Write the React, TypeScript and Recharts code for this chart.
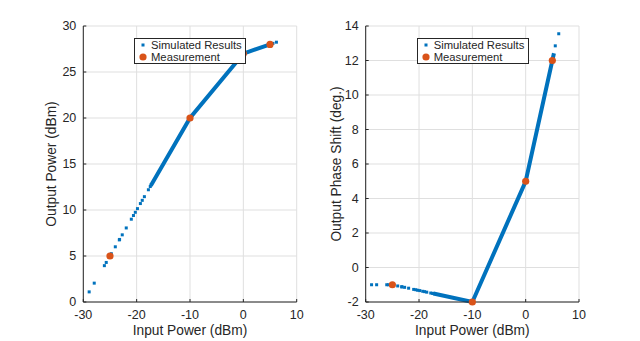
import { ComposedChart, Line, Scatter, XAxis, YAxis, CartesianGrid, Legend } from 'recharts';

// simulated input power (dBm) and the two outputs
const simInput = [-28.9, -27.95, -26.05, -25.7, -24.75, -24.0, -23.25, -23.2, -22.7, -21.95, -21.0, -20.6, -20.25, -19.85, -19.3, -18.95, -18.55, -17.8, -17.45, -17.3, 5.55, 6.2];
const simAmAm = [1.1, 2.05, 3.95, 4.3, 5.25, 6.0, 6.75, 6.8, 7.3, 8.05, 9.0, 9.4, 9.75, 10.15, 10.7, 11.05, 11.45, 12.2, 12.55, 12.7, 28.11, 28.24];
const simAmPm = [-1.0, -1.0, -1.0, -1.0, -1.02, -1.07, -1.12, -1.12, -1.15, -1.2, -1.27, -1.29, -1.32, -1.34, -1.38, -1.4, -1.43, -1.48, -1.5, -1.51, 12.85, 13.55];

// the dense run of simulated points, drawn as a thick trace
const bandInput = [-17.3, -10, 0, 5.3];
const bandAmAm = [12.7, 20, 27, 28.06];
const bandAmPm = [-1.51, -2, 5, 12.42];

const measInput = [-25, -10, 0, 5];
const measAmAm = [5, 20, 27, 28];
const measAmPm = [-1, -2, 5, 12];

const xTicks = [-30, -20, -10, 0, 10];
const amTicks = [0, 5, 10, 15, 20, 25, 30];
const pmTicks = [-2, 0, 2, 4, 6, 8, 10, 12, 14];

const BLUE = '#0072BD';
const ORANGE = '#D95319';
const INK = '#262626';
const FONT = '"Liberation Sans", Arial, Helvetica, sans-serif';

const toPoints = (xs: number[], ys: number[]) => xs.map((x, i) => ({ x, y: ys[i] }));

const square = (p: any) => <rect x={p.cx - 1.5} y={p.cy - 1.5} width={3} height={3} fill={BLUE} />;
const dot = (p: any) => <circle cx={p.cx} cy={p.cy} r={3.6} fill={ORANGE} />;

function LegendBox() {
  const row = { position: 'relative' as const, height: 12, lineHeight: '12px', paddingLeft: 16 };
  return (
    <div style={{ width: 112, height: 26, boxSizing: 'border-box', border: `1px solid ${INK}`, background: '#fff', fontFamily: FONT, fontSize: 11.25, color: INK, textAlign: 'left', paddingTop: 0 }}>
      <div style={row}>
        <svg width={10} height={12} style={{ position: 'absolute', left: 3, top: 0 }}>
          <rect x={3.5} y={4.5} width={3} height={3} fill={BLUE} />
        </svg>
        Simulated Results
      </div>
      <div style={row}>
        <svg width={10} height={12} style={{ position: 'absolute', left: 3, top: 0 }}>
          <circle cx={5} cy={6} r={3.6} fill={ORANGE} />
        </svg>
        Measurement
      </div>
    </div>
  );
}

interface PanelProps {
  title: string;
  yLabel: string;
  yDomain: [number, number];
  yTicks: number[];
  sim: { x: number; y: number }[];
  band: { x: number; y: number }[];
  meas: { x: number; y: number }[];
  yAxisWidth: number;
  marginRight: number;
  yLabelOffset: number;
  legendLeft: number;
}

function Panel(p: PanelProps) {
  const tick = { fill: INK, fontSize: 12.5, fontFamily: FONT };
  return (
    <ComposedChart width={320} height={341} margin={{ top: 26, right: p.marginRight, bottom: 0, left: 0 }}>
      <CartesianGrid stroke="#dfdfdf" />
      <XAxis
        type="number"
        dataKey="x"
        domain={[-30, 10]}
        ticks={xTicks}
        height={39}
        tickSize={-3}
        tickMargin={11}
        stroke={INK}
        tick={tick}
        label={{ value: 'Input Power (dBm)', position: 'insideBottom', offset: 6, fill: INK, fontSize: 13.75, fontFamily: FONT }}
      />
      <XAxis
        xAxisId="top"
        orientation="top"
        type="number"
        domain={[-30, 10]}
        ticks={xTicks}
        height={0}
        tickSize={-3}
        tick={false}
        stroke={INK}
        label={{ value: p.title, position: 'top', offset: 6, fill: '#000', fontSize: 13.75, fontWeight: 'bold', fontFamily: FONT }}
      />
      <YAxis
        type="number"
        dataKey="y"
        domain={p.yDomain}
        ticks={p.yTicks}
        width={p.yAxisWidth}
        tickSize={-3}
        tickMargin={10}
        stroke={INK}
        tick={tick}
        label={{ value: p.yLabel, angle: -90, position: 'insideLeft', offset: p.yLabelOffset, style: { textAnchor: 'middle' }, fill: INK, fontSize: 13.75, fontFamily: FONT }}
      />
      <YAxis yAxisId="right" orientation="right" type="number" domain={p.yDomain} ticks={p.yTicks} width={0} tickSize={-3} tick={false} stroke={INK} />
      <Line data={p.band} dataKey="y" stroke={BLUE} strokeWidth={4} dot={false} activeDot={false} legendType="none" isAnimationActive={false} />
      <Scatter data={p.sim} dataKey="y" shape={square} isAnimationActive={false} />
      <Scatter data={p.meas} dataKey="y" shape={dot} isAnimationActive={false} />
      <Legend layout="horizontal" verticalAlign="middle" align="center" wrapperStyle={{ left: p.legendLeft, top: 38, width: 112, height: 26 }} content={() => <LegendBox />} />
    </ComposedChart>
  );
}

export default function App() {
  return (
    <div style={{ position: 'absolute', left: 0, top: 0, width: 640, height: 341, background: '#fff' }}>
      <div style={{ position: 'absolute', left: 0, top: 0 }}>
        <Panel
          title="AM/AM Characteristic"
          yLabel="Output Power (dBm)"
          yDomain={[0, 30]}
          yTicks={amTicks}
          sim={toPoints(simInput, simAmAm)}
          band={toPoints(bandInput, bandAmAm)}
          meas={toPoints(measInput, measAmAm)}
          yAxisWidth={83.3}
          marginRight={23.3}
          yLabelOffset={51.5}
          legendLeft={134}
        />
      </div>
      <div style={{ position: 'absolute', left: 320, top: 0 }}>
        <Panel
          title="AM/PM Characteristic"
          yLabel="Output Phase Shift (deg.)"
          yDomain={[-2, 14]}
          yTicks={pmTicks}
          sim={toPoints(simInput, simAmPm)}
          band={toPoints(bandInput, bandAmPm)}
          meas={toPoints(measInput, measAmPm)}
          yAxisWidth={45.7}
          marginRight={61}
          yLabelOffset={16}
          legendLeft={96.7}
        />
      </div>
    </div>
  );
}
